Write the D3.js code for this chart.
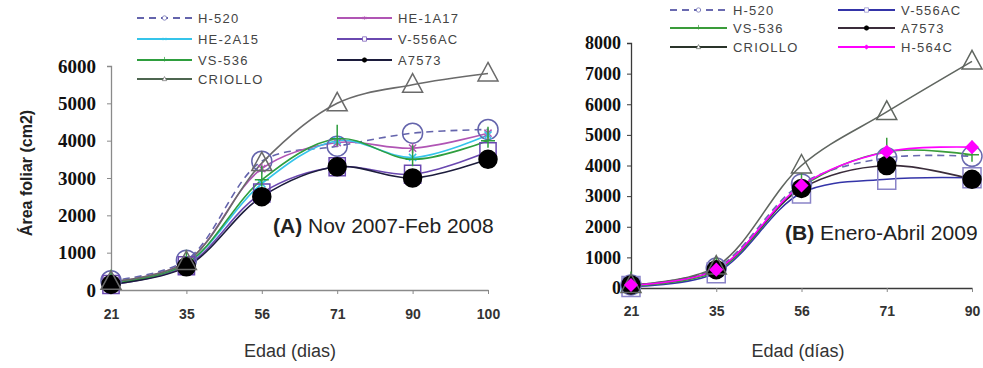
<!DOCTYPE html>
<html>
<head>
<meta charset="utf-8">
<script src="https://cdn.jsdelivr.net/npm/d3@7/dist/d3.min.js"></script>
<style>
  html, body { margin: 0; padding: 0; background: #fff; }
  svg { display: block; }
</style>
</head>
<body>
<svg id="chart" width="983" height="368"></svg>
<script>
// ---- Data: leaf area (cm2) by plant age (days) ----
const diasA = [21, 35, 56, 71, 90, 100];
const diasB = [21, 35, 56, 71, 90];

// Panel A: Nov 2007 - Feb 2008
const h520A    = [250, 800, 3450, 3850, 4200, 4300];
const he1a17A  = [200, 750, 3250, 3950, 3800, 4200];
const he2a15A  = [180, 700, 2850, 4000, 3550, 4150];
const v556acA  = [150, 650, 2600, 3300, 3100, 3700];
const vs536A   = [170, 700, 2950, 4050, 3500, 4000];
const a7573A   = [150, 620, 2500, 3300, 3000, 3500];
const criolloA = [220, 750, 3400, 5000, 5500, 5800];

// Panel B: Enero - Abril 2009
const h520B    = [100, 650, 3400, 4250, 4300];
const v556acB  = [50, 500, 3100, 3550, 3600];
const vs536B   = [80, 550, 3300, 4450, 4350];
const a7573B   = [100, 600, 3250, 4000, 3550];
const criolloB = [100, 700, 4000, 5750, 7400];
const h564cB   = [100, 600, 3350, 4450, 4600];

const yTicksA = [0, 1000, 2000, 3000, 4000, 5000, 6000];
const yTicksB = [0, 1000, 2000, 3000, 4000, 5000, 6000, 7000, 8000];

// ---- Marker shapes ----
function markerPath(type, s) {
  switch (type) {
    case "circle":
      return `M${s},0A${s},${s} 0 1,1 ${-s},0A${s},${s} 0 1,1 ${s},0Z`;
    case "square":
      return `M${-s * 0.9},${-s}h${s * 1.8}v${s * 2}h${-s * 1.8}Z`;
    case "triangle":
      return `M0,${-s * 1.1}L${s},${s * 0.75}L${-s},${s * 0.75}Z`;
    case "plus":
      return `M${-s * 0.7},0H${s * 0.7}M0,${-s * 1.4}V${s * 0.7}`;
    case "times":
      return `M${-s * 0.6},${-s * 0.6}L${s * 0.6},${s * 0.6}M${-s * 0.6},${s * 0.6}L${s * 0.6},${-s * 0.6}`;
    case "asterisk":
      return `M${-s * 0.6},${-s * 0.6}L${s * 0.6},${s * 0.6}M${-s * 0.6},${s * 0.6}L${s * 0.6},${-s * 0.6}M0,${-s * 0.8}V${s * 0.8}`;
    case "diamond":
      return `M0,${-s}L${s},0L0,${s}L${-s},0Z`;
  }
}

const seriesA = [
  { name: "H-520",   values: h520A,    color: "#6464ac", dash: "7,5", marker: "circle",   size: 10,  fill: "none" },
  { name: "HE-1A17", values: he1a17A,  color: "#b055b4", marker: "asterisk", size: 6,   fill: "none" },
  { name: "HE-2A15", values: he2a15A,  color: "#35c4ea", marker: "times",    size: 6,   fill: "none" },
  { name: "V-556AC", values: v556acA,  color: "#6a48b0", marker: "square",   size: 9,   fill: "none" },
  { name: "VS-536",  values: vs536A,   color: "#2e9e3e", marker: "plus",     size: 10,  fill: "none" },
  { name: "A7573",   values: a7573A,   color: "#1c1c3c", marker: "circle",   size: 9,   fill: "#000", markerStroke: "#000" },
  { name: "CRIOLLO", values: criolloA, color: "#6a6a6a", marker: "triangle", size: 10,  fill: "none", legendColor: "#4e6650" }
];

const seriesB = [
  { name: "H-520",   values: h520B,    color: "#6a6ab0", dash: "7,5", marker: "circle",   size: 10, fill: "none" },
  { name: "V-556AC", values: v556acB,  color: "#3434a8", marker: "square",   size: 10, fill: "none", markerStroke: "#8a84c8" },
  { name: "VS-536",  values: vs536B,   color: "#3a9c3a", marker: "plus",     size: 10, fill: "none" },
  { name: "A7573",   values: a7573B,   color: "#3a2c3a", marker: "circle",   size: 9,  fill: "#000", markerStroke: "#000" },
  { name: "CRIOLLO", values: criolloB, color: "#606660", marker: "triangle", size: 10, fill: "none", legendColor: "#2a342a" },
  { name: "H-564C",  values: h564cB,   color: "#ff00ff", marker: "diamond",  size: 6,  fill: "#ff00ff" }
];

const svg = d3.select("#chart");

function drawPanel(cfg) {
  const x = d3.scalePoint().domain(cfg.dias).range(cfg.xRange);
  const y = d3.scaleLinear().domain(cfg.yDomain).range(cfg.yRange);
  const g = svg.append("g");

  // Axes
  const yAxis = g.append("g")
    .attr("transform", `translate(${cfg.xRange[0]},0)`)
    .call(d3.axisLeft(y).tickValues(cfg.yTicks).tickSize(4).tickPadding(cfg.yPad).tickFormat(d3.format("d")));
  yAxis.select(".domain").attr("stroke", cfg.axisColor).attr("stroke-width", 1.3);
  yAxis.selectAll(".tick line").attr("stroke", cfg.axisColor);
  yAxis.selectAll(".tick text")
    .attr("font-family", "'Liberation Serif', 'Times New Roman', serif")
    .attr("font-weight", "bold").attr("font-size", cfg.yFont).attr("fill", "#111");

  const xAxis = g.append("g")
    .attr("transform", `translate(0,${cfg.yRange[0]})`)
    .call(d3.axisBottom(x).tickSize(4).tickPadding(cfg.xPad).tickSizeOuter(0));
  xAxis.select(".domain").attr("stroke", cfg.axisColor).attr("stroke-width", 1.3);
  xAxis.selectAll(".tick line").attr("stroke", "#888");
  xAxis.selectAll(".tick text")
    .attr("font-family", "'Liberation Sans', Arial, sans-serif")
    .attr("font-weight", "bold").attr("font-size", 14).attr("fill", "#333");

  // Lines
  const line = d3.line()
    .x((d, i) => x(cfg.dias[i]))
    .y(d => y(d))
    .curve(d3.curveCatmullRom.alpha(0.5));

  cfg.series.forEach(s => {
    g.append("path")
      .attr("d", line(s.values))
      .attr("fill", "none")
      .attr("stroke", s.color)
      .attr("stroke-width", 1.6)
      .attr("stroke-dasharray", s.dash || null);
  });

  // Markers
  cfg.series.forEach(s => {
    g.append("g").selectAll("path")
      .data(s.values)
      .join("path")
      .attr("transform", (d, i) => `translate(${x(cfg.dias[i])},${y(d)})`)
      .attr("d", markerPath(s.marker, s.size))
      .attr("fill", s.fill)
      .attr("stroke", s.markerStroke || s.color)
      .attr("stroke-width", 1.5);
  });

  // Legend
  cfg.series.forEach((s, k) => {
    const pos = cfg.legendPos[k];
    const lg = g.append("g");
    lg.append("line")
      .attr("x1", pos.x1).attr("x2", pos.x2).attr("y1", pos.y).attr("y2", pos.y)
      .attr("stroke", s.legendColor || s.color).attr("stroke-width", 1.8)
      .attr("stroke-dasharray", s.dash || null);
    lg.append("path")
      .attr("transform", `translate(${(pos.x1 + pos.x2) / 2},${pos.y})`)
      .attr("d", markerPath(s.marker, 2.2))
      .attr("fill", s.fill === "none" ? "#fff" : s.fill)
      .attr("stroke", s.markerStroke || s.color)
      .attr("stroke-opacity", 0.7)
      .attr("stroke-width", 1);
    lg.append("text")
      .attr("x", pos.x2 + 6).attr("y", pos.y)
      .attr("dy", "0.35em")
      .attr("font-family", "'Liberation Sans', Arial, sans-serif")
      .attr("font-size", 13).attr("letter-spacing", 1.2)
      .attr("fill", "#444")
      .text(s.name);
  });

  // Panel title
  const t = g.append("text")
    .attr("x", cfg.title.x).attr("y", cfg.title.y)
    .attr("font-family", "'Liberation Sans', Arial, sans-serif")
    .attr("font-size", 21).attr("fill", "#222");
  t.append("tspan").attr("font-weight", "bold").text(cfg.title.bold);
  t.append("tspan").text(cfg.title.rest);

  // X axis title
  g.append("text")
    .attr("x", cfg.xTitle.x).attr("y", cfg.xTitle.y)
    .attr("text-anchor", "middle")
    .attr("font-family", "'Liberation Sans', Arial, sans-serif")
    .attr("font-size", 18).attr("fill", "#333")
    .text(cfg.xTitle.text);
}

const legA = [
  { x1: 137, x2: 192, y: 18 }, { x1: 337, x2: 392, y: 18 },
  { x1: 137, x2: 192, y: 39 }, { x1: 337, x2: 392, y: 39 },
  { x1: 137, x2: 192, y: 60 }, { x1: 337, x2: 392, y: 60 },
  { x1: 137, x2: 192, y: 79 }
];
// legend order for panel A: H-520, HE-1A17, HE-2A15, V-556AC, VS-536, A7573, CRIOLLO
drawPanel({
  dias: diasA, series: seriesA,
  xRange: [111, 488], yRange: [290, 66], yDomain: [0, 6000], yTicks: yTicksA,
  yPad: 11, xPad: 15, yFont: 19, axisColor: "#8a8a8a",
  legendPos: legA,
  title: { x: 273, y: 233, bold: "(A)", rest: " Nov 2007-Feb 2008" },
  xTitle: { x: 290, y: 357, text: "Edad (dias)" }
});

const legB = [
  { x1: 670, x2: 727, y: 10 }, { x1: 838, x2: 895, y: 10 },
  { x1: 670, x2: 727, y: 28 }, { x1: 838, x2: 895, y: 28 },
  { x1: 670, x2: 727, y: 47 }, { x1: 838, x2: 895, y: 47 }
];
drawPanel({
  dias: diasB, series: seriesB,
  xRange: [631, 972], yRange: [288, 43], yDomain: [0, 8000], yTicks: yTicksB,
  yPad: 6, xPad: 14, yFont: 18, axisColor: "#3a3a3a",
  legendPos: legB,
  title: { x: 785, y: 240, bold: "(B)", rest: " Enero-Abril 2009" },
  xTitle: { x: 798, y: 357, text: "Edad (días)" }
});

// Y axis title (panel A)
svg.append("text")
  .attr("transform", "translate(32,173) rotate(-90)")
  .attr("text-anchor", "middle")
  .attr("font-family", "'Liberation Sans', Arial, sans-serif")
  .attr("font-weight", "bold").attr("font-size", 16).attr("fill", "#222")
  .text("Área foliar (cm2)");
</script>
</body>
</html>
